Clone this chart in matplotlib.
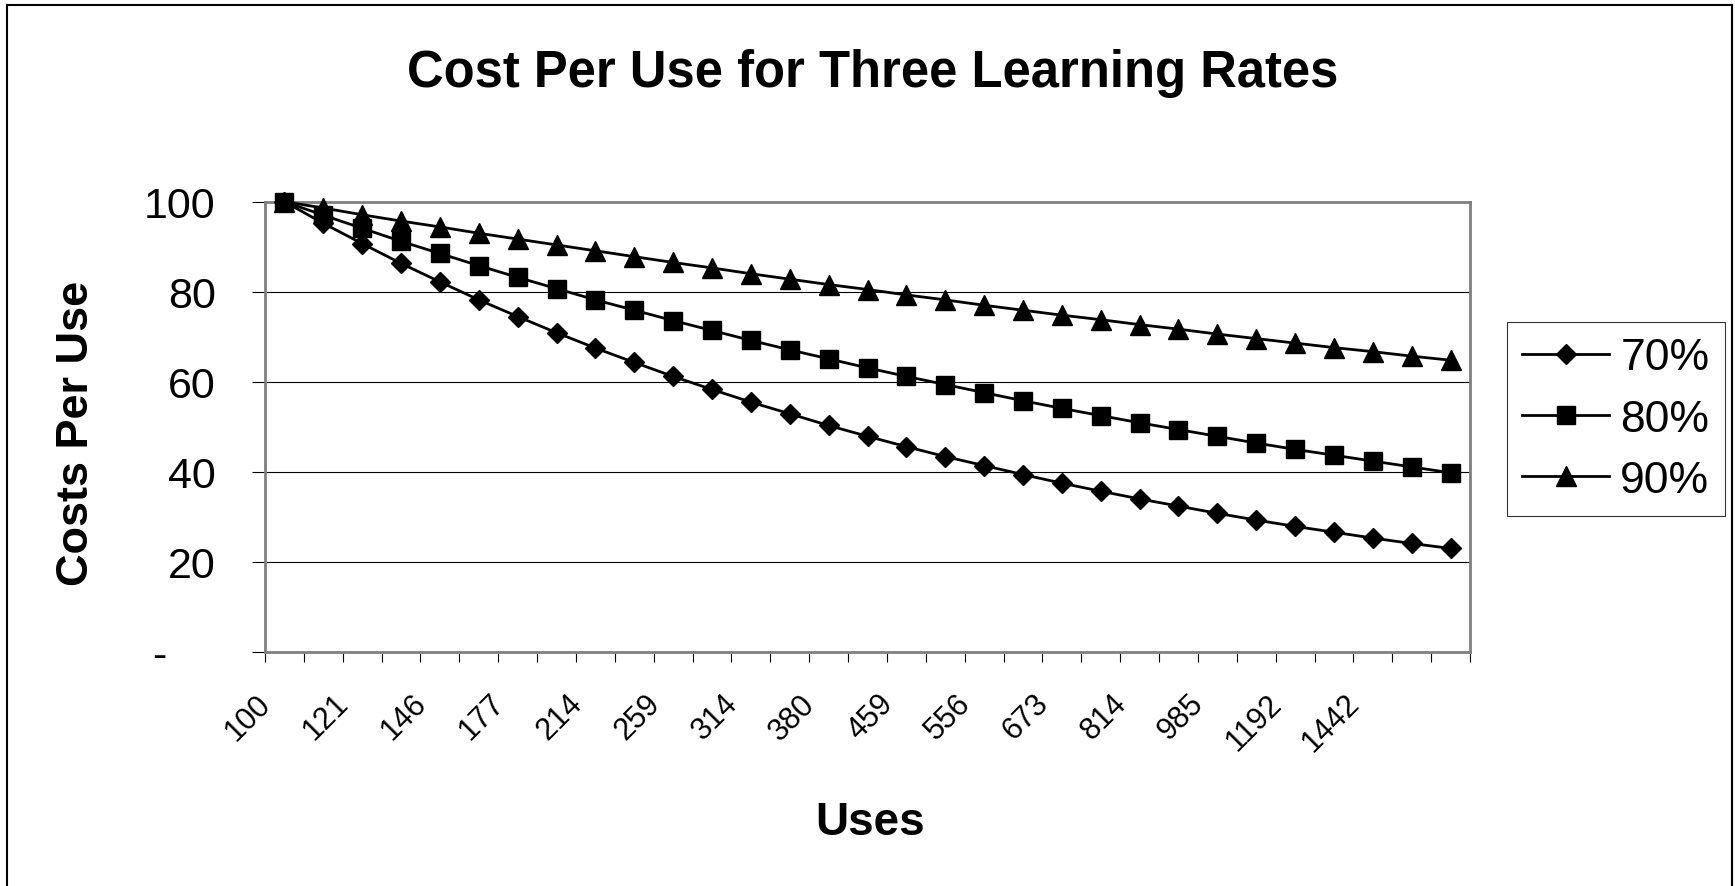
import matplotlib.pyplot as plt
from matplotlib.lines import Line2D
import numpy as np

plt.rcParams['font.family'] = ['Liberation Sans', 'DejaVu Sans']

# number of uses (each step is 10% more uses)
uses = [100, 110, 121, 133, 146, 161, 177, 195, 214, 236, 259, 285, 314, 345, 380,
        418, 459, 505, 556, 612, 673, 740, 814, 895, 985, 1083, 1192, 1311, 1442,
        1586, 1745]

# cost per use for each learning rate
cost_70 = [100.0, 95.2, 90.7, 86.3, 82.2, 78.2, 74.5, 70.9, 67.5, 64.3, 61.2, 58.3,
           55.5, 52.9, 50.3, 47.9, 45.6, 43.4, 41.4, 39.4, 37.5, 35.7, 34.0, 32.4,
           30.8, 29.3, 27.9, 26.6, 25.3, 24.1, 23.0]
cost_80 = [100.0, 97.0, 94.1, 91.2, 88.5, 85.8, 83.2, 80.7, 78.2, 75.9, 73.6, 71.4,
           69.2, 67.1, 65.1, 63.1, 61.2, 59.4, 57.6, 55.8, 54.1, 52.5, 50.9, 49.4,
           47.9, 46.4, 45.0, 43.7, 42.4, 41.1, 39.8]
cost_90 = [100.0, 98.6, 97.1, 95.7, 94.4, 93.0, 91.7, 90.4, 89.1, 87.8, 86.5, 85.3,
           84.0, 82.8, 81.6, 80.5, 79.3, 78.2, 77.0, 75.9, 74.8, 73.8, 72.7, 71.7,
           70.6, 69.6, 68.6, 67.6, 66.7, 65.7, 64.8]

y_ticks = [0, 20, 40, 60, 80, 100]
y_tick_labels = ['-    ', '20', '40', '60', '80', '100']

W, H = 1735, 887
fig = plt.figure(figsize=(W / 100, H / 100), dpi=100)
ax = fig.add_axes([265 / W, 1 - 653 / H, (1470 - 265) / W, (653 - 202.7) / H])

x = np.arange(len(uses))
h90, = ax.plot(x, cost_90, color='black', lw=2, marker='^', ms=14, clip_on=False, zorder=3)
h70, = ax.plot(x, cost_70, color='black', lw=2, marker='D', ms=9.8, clip_on=False, zorder=3)
h80, = ax.plot(x, cost_80, color='black', lw=2, marker='s', ms=13.3, clip_on=False, zorder=3)

ax.set_xlim(-0.5, len(uses) - 0.5)
ax.set_ylim(0, 100)

# tick marks sit between categories, labels on every other category
ax.set_xticks(np.arange(len(uses) + 1) - 0.5, minor=True)
lab_idx = list(range(0, len(uses) - 1, 2))
ax.set_xticks([i - 0.19 for i in lab_idx])
ax.set_xticklabels([str(uses[i]) for i in lab_idx], rotation=45, ha='right', fontsize=22)
ax.tick_params(axis='x', which='major', length=0, pad=26)
ax.tick_params(axis='x', which='minor', length=7.2, width=0.8, direction='out', color='black')

ax.set_yticks(y_ticks)
ax.set_yticklabels(y_tick_labels, fontsize=31)
ax.tick_params(axis='y', length=9.5, width=0.8, direction='out', color='black', pad=26)

ax.grid(axis='y', color='black', lw=0.8)
ax.set_axisbelow(True)
for s in ax.spines.values():
    s.set_color('#808080')
    s.set_linewidth(2)

fig.text(873 / W, 1 - 87 / H, 'Cost Per Use for Three Learning Rates', ha='center',
         va='baseline', fontsize=36.5, fontweight='bold')
fig.text(77 / W, 1 - 433 / H, 'Costs Per Use', rotation=90, ha='center', va='center',
         fontsize=32.5, fontweight='bold')
fig.text(870 / W, 1 - 835 / H, 'Uses', ha='center', va='baseline', fontsize=33,
         fontweight='bold')

leg = ax.legend([h70, h80, h90], ['70%', '80%', '90%'], loc='upper left',
                bbox_to_anchor=(1507 / W, 1 - 323 / H), bbox_transform=fig.transFigure,
                fontsize=32, frameon=True, fancybox=False, borderaxespad=0,
                handlelength=1.96, handletextpad=0.25, borderpad=0.34,
                labelspacing=0.46, numpoints=1)
leg.get_frame().set_edgecolor('black')
leg.get_frame().set_linewidth(0.8)

# outer chart border
lw = 1.5
fig.add_artist(Line2D([7 / W, 7 / W], [0, 1 - 6 / H], color='black', lw=lw))
fig.add_artist(Line2D([7 / W, 1732 / W], [1 - 6 / H, 1 - 6 / H], color='black', lw=lw))
fig.add_artist(Line2D([1732 / W, 1732 / W], [0, 1 - 6 / H], color='black', lw=lw))

fig.savefig('out.png', dpi=100)
